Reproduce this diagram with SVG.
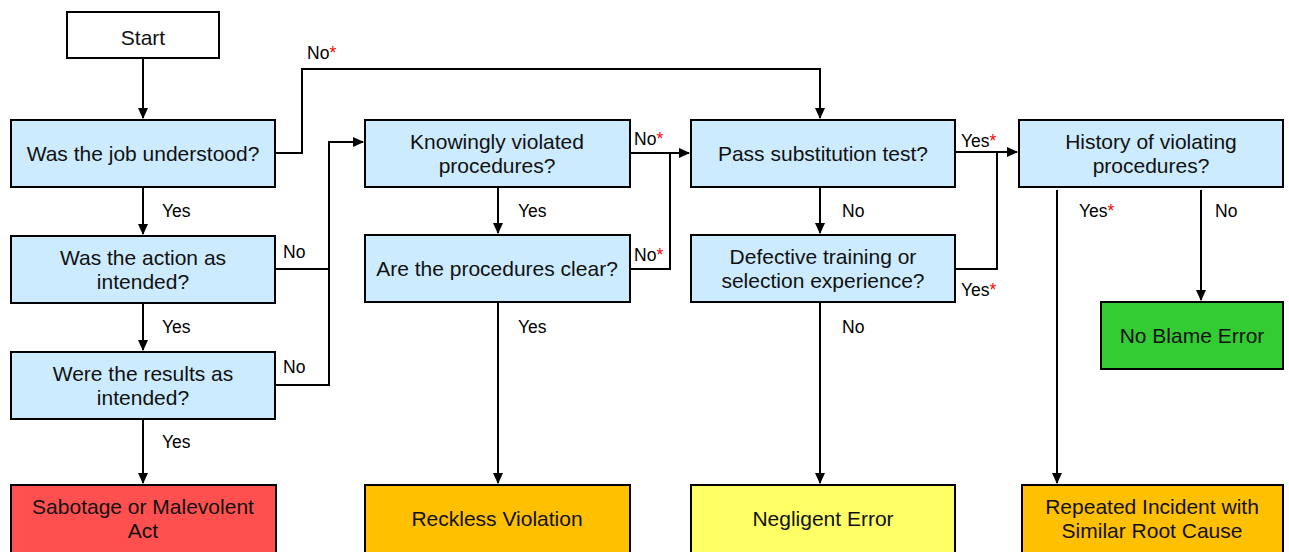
<svg xmlns="http://www.w3.org/2000/svg" width="1289" height="552" viewBox="0 0 1289 552">
<defs>
<marker id="ah" markerWidth="12" markerHeight="12" refX="10" refY="6" orient="auto" markerUnits="userSpaceOnUse">
<path d="M0,1 L11,6 L0,11 Z" fill="#000"/>
</marker>
<style>
.box{stroke:#000;stroke-width:2}
.q{fill:#CCEBFF}
.t{font-family:"Liberation Sans",Arial,sans-serif;font-size:21px;fill:#111;text-anchor:middle}
.l{font-family:"Liberation Sans",Arial,sans-serif;font-size:17.5px;fill:#000}
.s{fill:#FF0000}
.c{fill:none;stroke:#000;stroke-width:2}
</style>
</defs>
<rect width="1289" height="552" fill="#fff"/>
<g id="connectors">
<path class="c" d="M143,58 V118" marker-end="url(#ah)"/>
<path class="c" d="M143,187 V234" marker-end="url(#ah)"/>
<path class="c" d="M143,303 V350" marker-end="url(#ah)"/>
<path class="c" d="M143,419 V483" marker-end="url(#ah)"/>
<path class="c" d="M275,153 H302 V69 H820 V118" marker-end="url(#ah)"/>
<path class="c" d="M275,269 H329"/>
<path class="c" d="M275,385 H329 V142 H363" marker-end="url(#ah)"/>
<path class="c" d="M630,153 H689" marker-end="url(#ah)"/>
<path class="c" d="M630,269 H670 V153"/>
<path class="c" d="M498,187 V233" marker-end="url(#ah)"/>
<path class="c" d="M498,302 V483" marker-end="url(#ah)"/>
<path class="c" d="M820,187 V233" marker-end="url(#ah)"/>
<path class="c" d="M820,302 V483" marker-end="url(#ah)"/>
<path class="c" d="M955,152 H1017" marker-end="url(#ah)"/>
<path class="c" d="M955,269 H997 V152"/>
<path class="c" d="M1057,190 V483" marker-end="url(#ah)"/>
<path class="c" d="M1201,190 V300" marker-end="url(#ah)"/>
<text class="l" x="307" y="59">No<tspan class="s">*</tspan></text>
<text class="l" x="162" y="217">Yes</text>
<text class="l" x="162" y="333">Yes</text>
<text class="l" x="162" y="448">Yes</text>
<text class="l" x="283" y="258">No</text>
<text class="l" x="283" y="373">No</text>
<text class="l" x="634" y="145">No<tspan class="s">*</tspan></text>
<text class="l" x="634" y="261">No<tspan class="s">*</tspan></text>
<text class="l" x="518" y="217">Yes</text>
<text class="l" x="518" y="333">Yes</text>
<text class="l" x="842" y="217">No</text>
<text class="l" x="842" y="333">No</text>
<text class="l" x="961" y="147">Yes<tspan class="s">*</tspan></text>
<text class="l" x="961" y="296">Yes<tspan class="s">*</tspan></text>
<text class="l" x="1079" y="217">Yes<tspan class="s">*</tspan></text>
<text class="l" x="1215" y="217">No</text>
</g>
<g id="start"><rect class="box" x="67" y="12" width="152" height="46" fill="#fff"/><text class="t" x="143" y="45">Start</text></g>
<g id="job"><rect class="box q" x="11" y="120" width="264" height="67"/><text class="t" x="143" y="161">Was the job understood?</text></g>
<g id="action"><rect class="box q" x="11" y="236" width="264" height="67"/><text class="t" x="143" y="265">Was the action as</text><text class="t" x="143" y="289">intended?</text></g>
<g id="results"><rect class="box q" x="11" y="352" width="264" height="67"/><text class="t" x="143" y="381">Were the results as</text><text class="t" x="143" y="405">intended?</text></g>
<g id="sabotage"><rect class="box" x="11" y="485" width="265" height="68" fill="#FF5050"/><text class="t" x="143" y="514">Sabotage or Malevolent</text><text class="t" x="143" y="538">Act</text></g>
<g id="knowingly"><rect class="box q" x="365" y="120" width="265" height="67"/><text class="t" x="497" y="149">Knowingly violated</text><text class="t" x="497" y="173">procedures?</text></g>
<g id="clear"><rect class="box q" x="365" y="235" width="265" height="67"/><text class="t" x="497" y="276">Are the procedures clear?</text></g>
<g id="reckless"><rect class="box" x="365" y="485" width="265" height="68" fill="#FFC000"/><text class="t" x="497" y="526">Reckless Violation</text></g>
<g id="substitution"><rect class="box q" x="691" y="120" width="264" height="67"/><text class="t" x="823" y="161">Pass substitution test?</text></g>
<g id="defective"><rect class="box q" x="691" y="235" width="264" height="67"/><text class="t" x="823" y="264">Defective training or</text><text class="t" x="823" y="288">selection experience?</text></g>
<g id="negligent"><rect class="box" x="691" y="485" width="264" height="68" fill="#FFFF66"/><text class="t" x="823" y="526">Negligent Error</text></g>
<g id="history"><rect class="box q" x="1019" y="120" width="264" height="67"/><text class="t" x="1151" y="149">History of violating</text><text class="t" x="1151" y="173">procedures?</text></g>
<g id="noblame"><rect class="box" x="1101" y="302" width="182" height="67" fill="#33CC33"/><text class="t" x="1192" y="343">No Blame Error</text></g>
<g id="repeated"><rect class="box" x="1022" y="485" width="261" height="68" fill="#FFC000"/><text class="t" x="1152" y="514">Repeated Incident with</text><text class="t" x="1152" y="538">Similar Root Cause</text></g>
</svg>
